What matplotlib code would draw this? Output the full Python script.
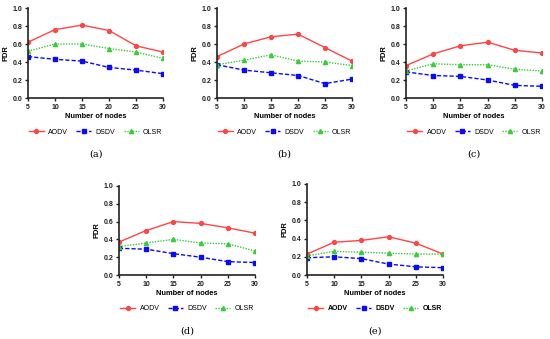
import numpy as np
import matplotlib.pyplot as plt

nodes = [5, 10, 15, 20, 25, 30]
panel_labels = ['(a)', '(b)', '(c)', '(d)', '(e)']

aodv = [
    [0.62, 0.76, 0.81, 0.75, 0.58, 0.51],
    [0.46, 0.60, 0.68, 0.71, 0.56, 0.41],
    [0.36, 0.49, 0.58, 0.62, 0.53, 0.50],
    [0.37, 0.50, 0.60, 0.58, 0.53, 0.47],
    [0.23, 0.36, 0.38, 0.42, 0.35, 0.23],
]
dsdv = [
    [0.46, 0.43, 0.41, 0.34, 0.31, 0.27],
    [0.37, 0.31, 0.28, 0.25, 0.16, 0.21],
    [0.29, 0.25, 0.24, 0.20, 0.14, 0.13],
    [0.30, 0.29, 0.24, 0.20, 0.15, 0.14],
    [0.19, 0.20, 0.18, 0.12, 0.09, 0.08],
]
olsr = [
    [0.52, 0.60, 0.60, 0.55, 0.51, 0.44],
    [0.37, 0.42, 0.48, 0.41, 0.40, 0.36],
    [0.30, 0.38, 0.37, 0.37, 0.32, 0.30],
    [0.32, 0.36, 0.40, 0.36, 0.35, 0.27],
    [0.21, 0.26, 0.25, 0.24, 0.23, 0.23],
]

plt.rcParams['font.family'] = ['Liberation Sans', 'DejaVu Sans']

fig = plt.figure(figsize=(5.5, 3.39), dpi=100)

# axes boxes in pixels: left, top, right, bottom
boxes = [
    (28, 8, 163, 98),
    (217, 8, 352, 98),
    (406, 8, 542, 98),
    (119, 186, 255, 275),
    (307, 184, 443, 275),
]

W, H = 550, 339
for i, (l, t, r, b) in enumerate(boxes):
    ax = fig.add_axes([l / W, 1 - b / H, (r - l) / W, (b - t) / H])
    ax.plot(nodes, aodv[i], color='#ff4545', lw=1.0, marker='o', ms=2.8, label='AODV')
    ax.plot(nodes, dsdv[i], color='#0a0aff', lw=1.0, ls=(0, (3, 1.5)), marker='s', ms=3.4, label='DSDV')
    ax.plot(nodes, olsr[i], color='#3acc3a', lw=1.0, ls=(0, (1, 1)), marker='^', ms=3.0, label='OLSR')
    ax.set_xlim(5, 30)
    ax.set_ylim(0, 1.0)
    ax.set_xticks(nodes)
    ax.set_yticks(np.arange(0, 1.01, 0.2))
    ax.set_yticklabels(['0.0', '0.2', '0.4', '0.6', '0.8', '1.0'])
    for s in ['top', 'right']:
        ax.spines[s].set_visible(False)
    for s in ['left', 'bottom']:
        ax.spines[s].set_linewidth(1.2)
        ax.spines[s].set_color('#222222')
    ax.tick_params(labelsize=5, width=1.0, length=2.5, pad=1.5, colors='#222222')
    for lab in ax.get_xticklabels() + ax.get_yticklabels():
        lab.set_fontweight('bold')
    ax.set_xlabel('Number of nodes', fontsize=5.4, fontweight='bold', labelpad=2)
    ax.set_ylabel('PDR', fontsize=5.4, fontweight='bold', labelpad=2)
    ax.patch.set_alpha(0)
    ax.legend(loc='center', bbox_to_anchor=(0.5, -34 / (b - t)), ncol=3, frameon=False,
              handlelength=2.2, columnspacing=1.2, handletextpad=0.6,
              prop={'size': 5, 'weight': 'bold' if i == 4 else 'normal'})
    fig.text((l + r) / 2 / W, 1 - (b + 56) / H, panel_labels[i], ha='center', va='center',
             fontsize=7, family='DejaVu Serif')

fig.savefig('out.png', dpi=100)
